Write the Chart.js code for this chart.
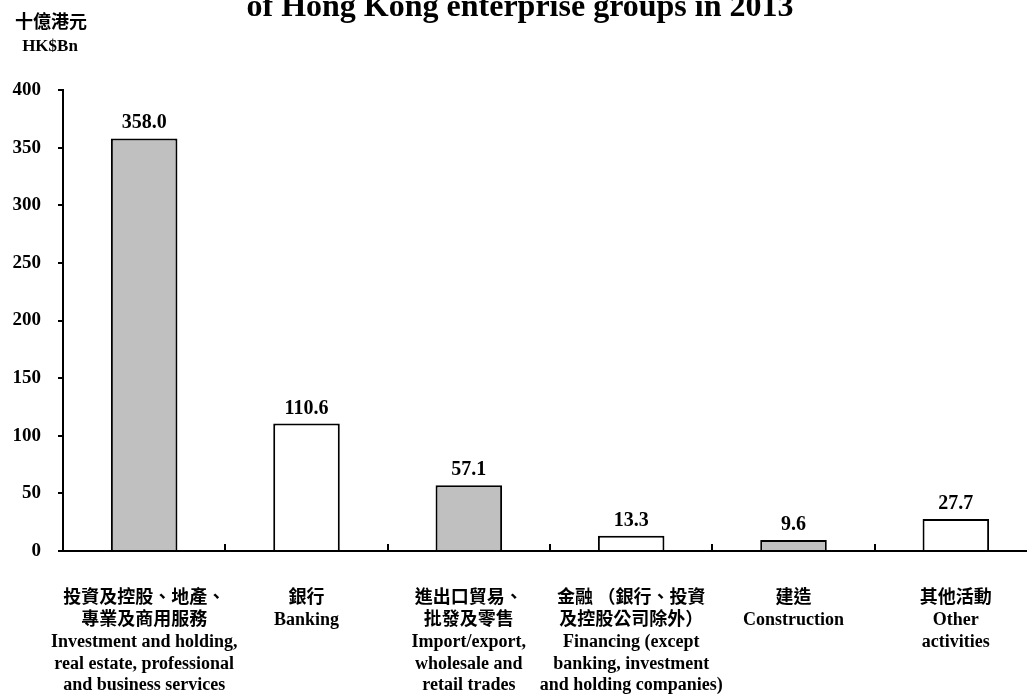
<!DOCTYPE html>
<html>
<head>
<meta charset="utf-8">
<script src="https://cdn.jsdelivr.net/npm/chart.js@4/dist/chart.umd.min.js"></script>
<style>
  html, body { margin: 0; background: #fff; overflow: hidden; }
  canvas { display: block; }
</style>
</head>
<body>
<!-- the plot runs slightly past the right edge in the original, so the canvas is a bit wider than the window -->
<canvas id="chart" width="1037" height="697"></canvas>
<script>
const titleText = 'of Hong Kong enterprise groups in 2013';
const unitZh = '十億港元';
const unitEn = 'HK$Bn';

const categories = [
    ['投資及控股、地產、', '專業及商用服務', 'Investment and holding,', 'real estate, professional', 'and business services'],
    ['銀行', 'Banking'],
    ['進出口貿易、', '批發及零售', 'Import/export,', 'wholesale and', 'retail trades'],
    ['金融 （銀行、投資', '及控股公司除外）', 'Financing (except', 'banking, investment', 'and holding companies)'],
    ['建造', 'Construction'],
    ['其他活動', 'Other', 'activities']
];
const values = [358.0, 110.6, 57.1, 13.3, 9.6, 27.7];

const FONT = '"Liberation Serif", "Noto Sans CJK TC", serif';

// title, unit label and value labels above the bars
const extraText = {
    id: 'extraText',
    afterDraw(chart) {
        const ctx = chart.ctx;
        ctx.save();
        ctx.fillStyle = '#000';
        ctx.textAlign = 'center';
        ctx.textBaseline = 'alphabetic';
        ctx.font = 'bold 32px ' + FONT;
        ctx.fillText(titleText, 520, 16);

        ctx.textBaseline = 'middle';
        ctx.font = 'bold 18px ' + FONT;
        ctx.fillText(unitZh, 51, 23);
        ctx.font = 'bold 17px ' + FONT;
        ctx.fillText(unitEn, 50, 47);

        ctx.textBaseline = 'alphabetic';
        ctx.font = 'bold 20px ' + FONT;
        chart.getDatasetMeta(0).data.forEach((bar, i) => {
            ctx.fillText(values[i].toFixed(1), bar.x, bar.y - 10);
        });
        ctx.restore();
    }
};

new Chart(document.getElementById('chart'), {
    type: 'bar',
    data: {
        labels: categories,
        datasets: [{
            data: values,
            backgroundColor: c => c.dataIndex % 2 ? '#ffffff' : '#c0c0c0',
            borderColor: '#000',
            borderWidth: 2,
            borderSkipped: 'start',
            barPercentage: 0.41,
            categoryPercentage: 1
        }]
    },
    options: {
        responsive: false,
        animation: false,
        layout: { padding: { top: 90, right: 0, left: 0, bottom: 0 } },
        plugins: { legend: { display: false }, tooltip: { enabled: false } },
        scales: {
            x: {
                z: 1,
                grid: { offset: true, drawOnChartArea: false, drawTicks: true, tickLength: -7, color: '#000', lineWidth: 2 },
                border: { display: true, color: '#000', width: 2 },
                ticks: {
                    color: '#000',
                    font: { family: FONT, size: 18, weight: 'bold', lineHeight: 1.22 },
                    padding: 43,
                    autoSkip: false,
                    maxRotation: 0
                },
                afterFit: s => { s.height = 146; }
            },
            y: {
                min: 0,
                max: 400,
                grid: { drawOnChartArea: false, drawTicks: true, tickLength: 5, color: '#000', lineWidth: 2 },
                border: { display: true, color: '#000', width: 2 },
                ticks: {
                    stepSize: 50,
                    color: '#000',
                    font: { family: FONT, size: 19, weight: 'bold' },
                    padding: 17
                },
                afterFit: s => { s.width = 63; }
            }
        }
    },
    plugins: [extraText]
});
</script>
</body>
</html>
